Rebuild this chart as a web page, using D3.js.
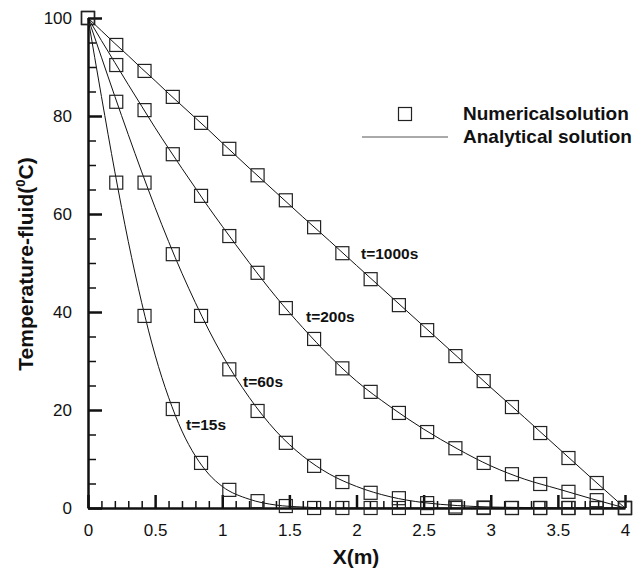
<!DOCTYPE html>
<html>
<head>
<meta charset="utf-8">
<script src="https://cdn.jsdelivr.net/npm/d3@7"></script>
<style>
  body { margin: 0; background: #fff; }
  text { font-family: "Liberation Sans", Arial, sans-serif; fill: #111; }
</style>
</head>
<body>
<div id="chart"></div>
<script>
// grid nodes of the numerical solution
var nodeX = [0, 0.2105, 0.4211, 0.6316, 0.8421, 1.0526, 1.2632, 1.4737, 1.6842, 1.8947,
  2.1053, 2.3158, 2.5263, 2.7368, 2.9474, 3.1579, 3.3684, 3.5789, 3.7895, 4];

var num15 = [100, 66.4, 39.2, 20.2, 9.2, 3.7, 1.4, 0.4, 0, 0, 0, 0, 0, 0, 0, 0, 0, 0, 0, 0];
var num60 = [100, 82.9, 66.4, 51.8, 39.2, 28.3, 19.8, 13.3, 8.6, 5.3, 3.1, 2.0, 1.0, 0.3, 0.1, 0, 0, 0, 0, 0];
var num200 = [100, 90.4, 81.2, 72.2, 63.7, 55.5, 48.0, 40.8, 34.5, 28.5, 23.7, 19.4, 15.5, 12.2, 9.2, 6.9, 4.9, 3.3, 1.6, 0];
var num1000 = [100, 94.5, 89.2, 83.9, 78.6, 73.3, 67.9, 62.8, 57.3, 52.0, 46.7, 41.4, 36.3, 31.0, 25.9, 20.6, 15.3, 10.2, 5.1, 0];

// analytical curves
var lineX = [0, 0.1, 0.2, 0.3, 0.4, 0.5, 0.6, 0.7, 0.8, 0.9, 1.0, 1.2, 1.4, 1.6, 1.8, 2.0,
  2.25, 2.5, 2.75, 3.0, 3.25, 3.5, 3.75, 4.0];
var ana15 = [100, 84, 68.6, 54.4, 41.9, 31.2, 22.6, 15.7, 10.6, 6.9, 4.4, 1.8, 0.6, 0.2, 0, 0,
  0, 0, 0, 0, 0, 0, 0, 0];
var ana60 = [100, 92, 84, 76.2, 68.6, 61.3, 54.4, 47.9, 41.9, 36.3, 31.2, 22.6, 15.7, 10.6, 6.9, 4.4,
  2.3, 1.1, 0.5, 0.2, 0.1, 0, 0, 0];
var ana200 = [100, 95.4, 90.9, 86.4, 82.0, 77.6, 73.4, 69.3, 65.3, 61.3, 57.5, 50.1, 43.1, 36.8, 31.0, 25.9,
  20.7, 16.1, 12.1, 8.6, 5.9, 3.9, 1.9, 0];
var ana1000 = [100, 97.4, 94.8, 92.3, 89.7, 87.2, 84.6, 82.1, 79.6, 77.1, 74.5, 69.4, 64.4, 59.4, 54.5, 49.5,
  43.3, 37.1, 30.9, 24.6, 18.5, 12.3, 6.1, 0];

var xTicks = [0, 0.5, 1, 1.5, 2, 2.5, 3, 3.5, 4];
var yTicks = [0, 20, 40, 60, 80, 100];

var svg = d3.select("#chart").append("svg")
  .attr("width", 643)
  .attr("height", 573);

var x = d3.scaleLinear().domain([0, 4]).range([88, 625]);
var y = d3.scaleLinear().domain([0, 100]).range([508, 18]);

// analytical lines
var line = d3.line()
  .x(function (d) { return x(d[0]); })
  .y(function (d) { return y(d[1]); })
  .curve(d3.curveMonotoneX);

[ana15, ana60, ana200, ana1000].forEach(function (vals) {
  svg.append("path")
    .datum(lineX.map(function (v, i) { return [v, vals[i]]; }))
    .attr("d", line)
    .attr("fill", "none")
    .attr("stroke", "#111")
    .attr("stroke-width", 1);
});

// axes
var minorX = d3.range(0, 4.001, 0.1).filter(function (v) { return Math.abs(v * 2 - Math.round(v * 2)) > 1e-6; });
var minorY = d3.range(0, 100.1, 5).filter(function (v) { return v % 20 !== 0; });

var gx = svg.append("g").attr("transform", "translate(0,508)");
gx.call(d3.axisBottom(x).tickValues(minorX).tickSize(-7).tickSizeOuter(0).tickFormat(""));
gx.selectAll(".tick line").attr("stroke-width", 1.5);
var gx2 = svg.append("g").attr("transform", "translate(0,508)");
gx2.call(d3.axisBottom(x).tickValues(xTicks).tickSize(-13).tickSizeOuter(0)
  .tickPadding(16).tickFormat(d3.format("~g")));
gx2.selectAll(".tick line").attr("stroke-width", 2.5);
gx2.select(".domain").attr("stroke-width", 2.5);
gx2.selectAll("text").style("font-size", "17px").attr("fill", "#111");

var gy = svg.append("g").attr("transform", "translate(88,0)");
gy.call(d3.axisLeft(y).tickValues(minorY).tickSize(-8).tickSizeOuter(0).tickFormat(""));
gy.selectAll(".tick line").attr("stroke-width", 1.5);
var gy2 = svg.append("g").attr("transform", "translate(88,0)");
gy2.call(d3.axisLeft(y).tickValues(yTicks).tickSize(-14).tickSizeOuter(0).tickPadding(16));
gy2.selectAll(".tick line").attr("stroke-width", 2.5);
gy2.select(".domain").attr("stroke-width", 2.5);
gy2.selectAll("text").style("font-size", "17px").attr("fill", "#111");
svg.selectAll(".domain").attr("stroke", "#111");
svg.selectAll(".tick line").attr("stroke", "#111");

// numerical markers
var sq = 13;
[num15, num60, num200, num1000].forEach(function (vals) {
  svg.append("g").selectAll("rect")
    .data(nodeX.map(function (v, i) { return [v, vals[i]]; }))
    .enter()
    .append("rect")
    .attr("x", function (d) { return x(d[0]) - sq / 2; })
    .attr("y", function (d) { return y(d[1]) - sq / 2; })
    .attr("width", sq)
    .attr("height", sq)
    .attr("fill", "none")
    .attr("stroke", "#222")
    .attr("stroke-width", 1.2);
});

// curve labels
var labels = [["t=1000s", 361, 259], ["t=200s", 306, 322], ["t=60s", 243, 387], ["t=15s", 186, 430]];
svg.selectAll(".tlabel")
  .data(labels)
  .enter()
  .append("text")
  .attr("class", "tlabel")
  .attr("x", function (d) { return d[1]; })
  .attr("y", function (d) { return d[2]; })
  .style("font-size", "15.5px")
  .style("font-weight", "bold")
  .text(function (d) { return d[0]; });

// legend
svg.append("rect")
  .attr("x", 405 - sq / 2).attr("y", 114 - sq / 2)
  .attr("width", sq).attr("height", sq)
  .attr("fill", "none").attr("stroke", "#222").attr("stroke-width", 1.2);
svg.append("line")
  .attr("x1", 362).attr("x2", 448).attr("y1", 137).attr("y2", 137)
  .attr("stroke", "#555").attr("stroke-width", 1);
svg.append("text").attr("x", 463).attr("y", 120)
  .style("font-size", "19px").style("font-weight", "bold")
  .text("Numericalsolution");
svg.append("text").attr("x", 463).attr("y", 143)
  .style("font-size", "19px").style("font-weight", "bold")
  .text("Analytical solution");

// axis titles
svg.append("text")
  .attr("x", 356).attr("y", 564)
  .attr("text-anchor", "middle")
  .style("font-size", "21px").style("font-weight", "bold")
  .text("X(m)");

var yt = svg.append("text")
  .attr("transform", "translate(33,264) rotate(-90)")
  .attr("text-anchor", "middle")
  .style("font-size", "21px").style("font-weight", "bold");
yt.append("tspan").text("Temperature-fluid(");
yt.append("tspan").attr("dy", -8).style("font-size", "13px").text("0");
yt.append("tspan").attr("dy", 8).text("C)");
</script>
</body>
</html>
